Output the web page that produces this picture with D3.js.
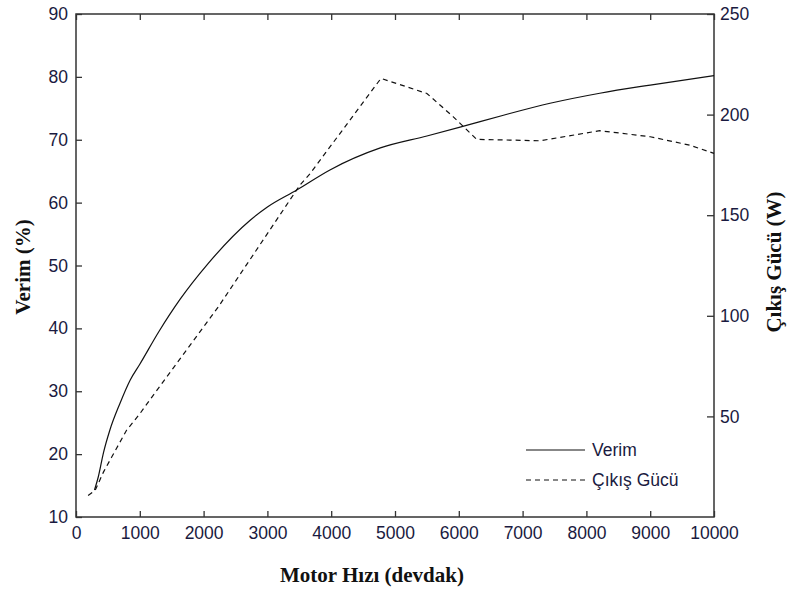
<!DOCTYPE html>
<html>
<head>
<meta charset="utf-8">
<title>Verim ve Çıkış Gücü</title>
<script src="https://d3js.org/d3.v7.min.js"></script>
<style>
  body { margin: 0; background: #fff; }
  .tick text { font-family: "Liberation Sans", Arial, sans-serif; font-size: 17.5px; fill: #1a1a40; }
  .title { font-family: "Liberation Serif", "Times New Roman", serif; font-weight: bold; font-size: 21px; fill: #111; }
  .legend text { font-family: "Liberation Sans", Arial, sans-serif; font-size: 17.5px; fill: #1a1a40; }
</style>
</head>
<body>
<div id="chart"></div>
<script>
// Verim (%) — solid line, left axis
const verimRpm = [290, 350, 430, 530, 690, 850, 1000, 1300, 1630, 2070, 2730, 3000, 3460, 3980, 4770, 5500, 6020, 6700, 7430, 8210, 9000, 10000];
const verim    = [14.3, 16.4, 20.2, 23.8, 28.1, 31.8, 34.3, 39.5, 44.6, 50.3, 57.2, 59.3, 62.0, 65.2, 68.7, 70.6, 72.0, 73.9, 75.8, 77.4, 78.7, 80.2];

// Çıkış Gücü (W) — dashed line, right axis
const gucRpm = [190, 300, 430, 560, 790, 1000, 1190, 2230, 3510, 3670, 4780, 5500, 5910, 6280, 7270, 8210, 9000, 9620, 10000];
const guc    = [10.7, 13.2, 22.3, 29.8, 43, 51.3, 59.6, 104.4, 165, 170.7, 218, 210.5, 199, 187.7, 187, 192, 189, 184.8, 180.7];

const xTicks = d3.range(0, 10001, 1000);
const yLeftTicks = d3.range(10, 91, 10);
const yRightTicks = [50, 100, 150, 200, 250];

const W = 788, H = 594;
const margin = { top: 14, right: 74, bottom: 77, left: 76 };
const width = W - margin.left - margin.right;
const height = H - margin.top - margin.bottom;

const svg = d3.select("#chart").append("svg")
  .attr("width", W)
  .attr("height", H);

const g = svg.append("g")
  .attr("transform", `translate(${margin.left},${margin.top})`);

const x = d3.scaleLinear().domain([0, 10000]).range([0, width]);
const yL = d3.scaleLinear().domain([10, 90]).range([height, 0]);
const yR = d3.scaleLinear().domain([0, 250]).range([height, 0]);

// axes: ticks point inward like the original
const axisColor = "#333";
function styleAxis(sel) {
  sel.select(".domain").remove();
  sel.selectAll(".tick line").attr("stroke", axisColor).attr("stroke-width", 1.3);
}

g.append("g")
  .attr("transform", `translate(0,${height})`)
  .call(d3.axisBottom(x).tickValues(xTicks).tickFormat(d3.format("d")).tickSizeInner(-6).tickPadding(10))
  .call(styleAxis);

g.append("g")
  .call(d3.axisTop(x).tickValues(xTicks).tickSizeInner(-6).tickFormat(""))
  .call(styleAxis);

g.append("g")
  .call(d3.axisLeft(yL).tickValues(yLeftTicks).tickSizeInner(-6).tickPadding(8))
  .call(styleAxis);

g.append("g")
  .attr("transform", `translate(${width},0)`)
  .call(d3.axisRight(yR).tickValues(yRightTicks).tickSizeInner(-7).tickPadding(6))
  .call(styleAxis);

// frame
g.append("rect")
  .attr("width", width)
  .attr("height", height)
  .attr("fill", "none")
  .attr("stroke", axisColor)
  .attr("stroke-width", 1.5);

// lines
const lineL = d3.line()
  .x((d, i) => x(verimRpm[i]))
  .y(d => yL(d))
  .curve(d3.curveMonotoneX);

const lineR = d3.line()
  .x((d, i) => x(gucRpm[i]))
  .y(d => yR(d));

g.append("path")
  .attr("d", lineL(verim))
  .attr("fill", "none")
  .attr("stroke", "#111")
  .attr("stroke-width", 1.2);

g.append("path")
  .attr("d", lineR(guc))
  .attr("fill", "none")
  .attr("stroke", "#111")
  .attr("stroke-width", 1.2)
  .attr("stroke-dasharray", "5,4");

// axis titles
svg.append("text")
  .attr("class", "title")
  .attr("x", 372)
  .attr("y", 582)
  .attr("text-anchor", "middle")
  .text("Motor Hızı (devdak)");

svg.append("text")
  .attr("class", "title")
  .attr("transform", `translate(30,267) rotate(-90)`)
  .attr("text-anchor", "middle")
  .text("Verim (%)");

svg.append("text")
  .attr("class", "title")
  .attr("transform", `translate(781,262) rotate(-90)`)
  .attr("text-anchor", "middle")
  .text("Çıkış Gücü (W)");

// legend
const legendItems = [
  { name: "Verim", dash: null },
  { name: "Çıkış Gücü", dash: "5,4" }
];
const legend = svg.append("g").attr("class", "legend")
  .attr("transform", "translate(526,450)");

const li = legend.selectAll("g")
  .data(legendItems)
  .enter().append("g")
  .attr("transform", (d, i) => `translate(0,${i * 30})`);

li.append("line")
  .attr("x1", 0).attr("x2", 59)
  .attr("stroke", "#111")
  .attr("stroke-width", 1.2)
  .attr("stroke-dasharray", d => d.dash);

li.append("text")
  .attr("x", 66)
  .attr("dy", "0.35em")
  .text(d => d.name);
</script>
</body>
</html>
